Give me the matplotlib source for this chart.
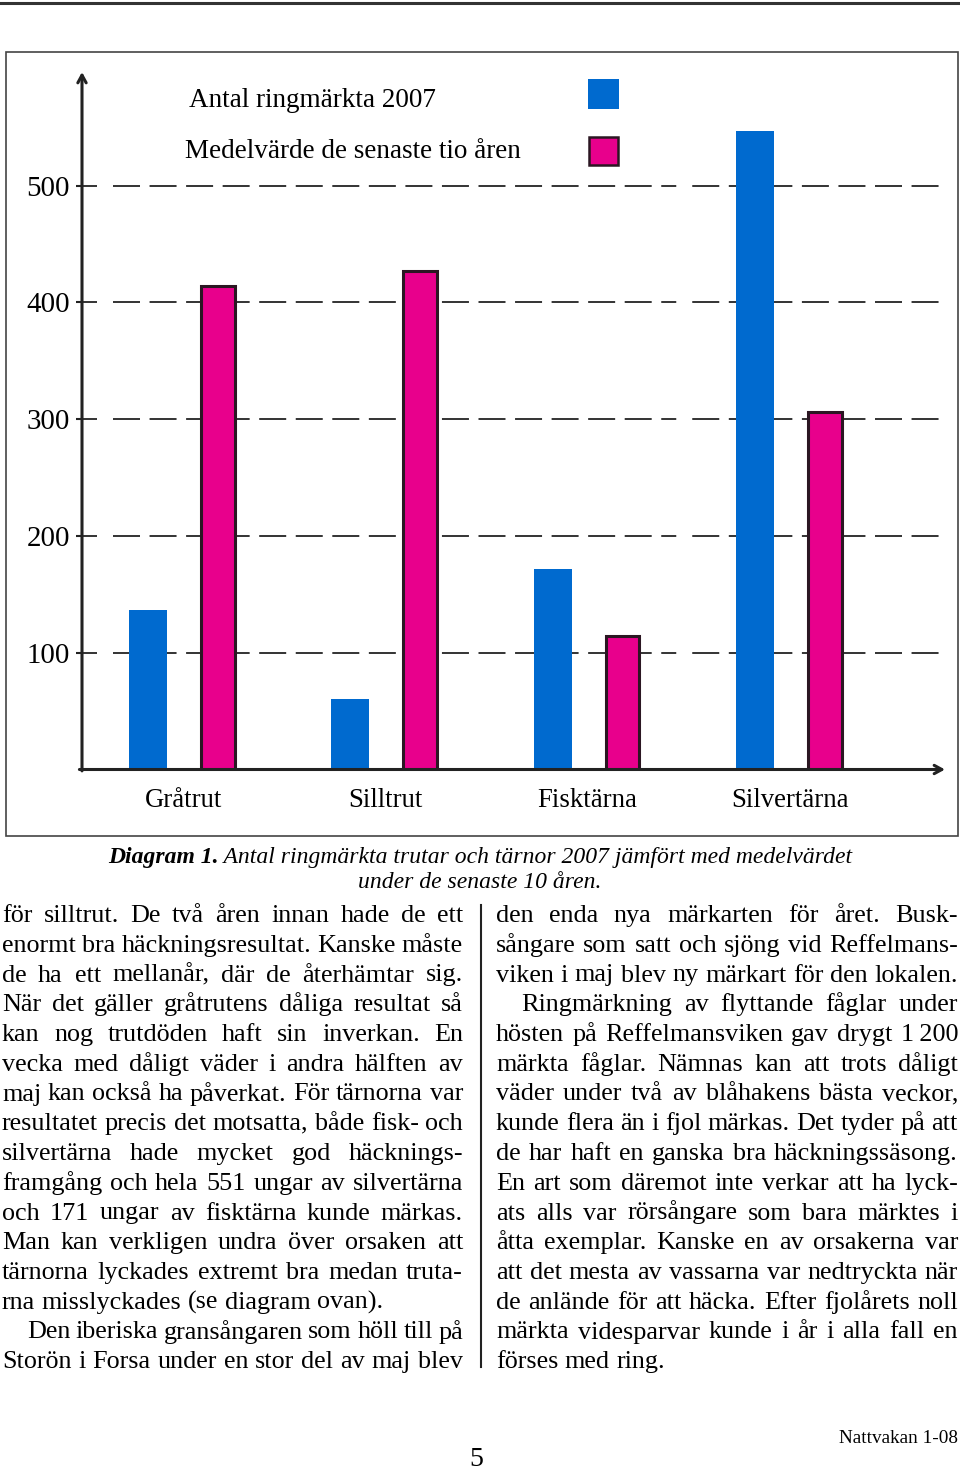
import matplotlib
matplotlib.use("Agg")
import matplotlib.pyplot as plt
import numpy as np
from matplotlib.font_manager import FontProperties
from matplotlib.patches import Rectangle
from matplotlib.lines import Line2D

plt.rcParams['lines.scale_dashes'] = False

# chart data
species = ['Gråtrut', 'Silltrut', 'Fisktärna', 'Silvertärna']
ringed_2007 = [137, 60, 172, 547]
mean_10yr = [414, 427, 114, 306]
y_ticks = [100, 200, 300, 400, 500]
legend_labels = ['Antal ringmärkta 2007', 'Medelvärde de senaste tio åren']

caption_bold = 'Diagram 1.'
caption_rest = ' Antal ringmärkta trutar och tärnor 2007 jämfört med medelvärdet'
caption_line2 = 'under de senaste 10 åren.'

# body text, one entry per printed line: (text, justified, indented)
left_col = [
    ('för silltrut. De två åren innan hade de ett', True, False),
    ('enormt bra häckningsresultat. Kanske måste', True, False),
    ('de ha ett mellanår, där de återhämtar sig.', True, False),
    ('När det gäller gråtrutens dåliga resultat så', True, False),
    ('kan nog trutdöden haft sin inverkan. En', True, False),
    ('vecka med dåligt väder i andra hälften av', True, False),
    ('maj kan också ha påverkat. För tärnorna var', True, False),
    ('resultatet precis det motsatta, både fisk- och', True, False),
    ('silvertärna hade mycket god häcknings-', True, False),
    ('framgång och hela 551 ungar av silvertärna', True, False),
    ('och 171 ungar av fisktärna kunde märkas.', True, False),
    ('Man kan verkligen undra över orsaken att', True, False),
    ('tärnorna lyckades extremt bra medan truta-', True, False),
    ('rna misslyckades (se diagram ovan).', False, False),
    ('Den iberiska gransångaren som höll till på', True, True),
    ('Storön i Forsa under en stor del av maj blev', True, False),
]
right_col = [
    ('den enda nya märkarten för året. Busk-', True, False),
    ('sångare som satt och sjöng vid Reffelmans-', True, False),
    ('viken i maj blev ny märkart för den lokalen.', True, False),
    ('Ringmärkning av flyttande fåglar under', True, True),
    ('hösten på Reffelmansviken gav drygt 1\u2009200', True, False),
    ('märkta fåglar. Nämnas kan att trots dåligt', True, False),
    ('väder under två av blåhakens bästa veckor,', True, False),
    ('kunde flera än i fjol märkas. Det tyder på att', True, False),
    ('de har haft en ganska bra häckningssäsong.', True, False),
    ('En art som däremot inte verkar att ha lyck-', True, False),
    ('ats alls var rörsångare som bara märktes i', True, False),
    ('åtta exemplar. Kanske en av orsakerna var', True, False),
    ('att det mesta av vassarna var nedtryckta när', True, False),
    ('de anlände för att häcka. Efter fjolårets noll', True, False),
    ('märkta videsparvar kunde i år i alla fall en', True, False),
    ('förses med ring.', False, False),
]

BLUE = '#006acf'
PINK = '#e8008c'
INK = '#222222'
SERIF = ['Liberation Serif', 'DejaVu Serif']

W, H = 960, 1472
fig = plt.figure(figsize=(W / 100, H / 100), dpi=100)
renderer = fig.canvas.get_renderer()


def fy(y):
    return 1 - y / H


def text_w(s, fp):
    return renderer.get_text_width_height_descent(s, fp, ismath=False)[0]


def fit(s, width, **kw):
    fp = FontProperties(family=SERIF, size=10, **kw)
    return 10 * width / text_w(s, fp)


# page furniture
fig.add_artist(Line2D([0, 1], [fy(3), fy(3)], color='#333333', lw=2.2))
fig.add_artist(Rectangle((6 / W, fy(836)), 952 / W, 784 / H, fill=False,
                         ec='#444444', lw=1.2, transform=fig.transFigure))

# chart
ax = fig.add_axes([82 / W, fy(769.5), (945 - 82) / W, (769.5 - 72) / H])
ax.patch.set_visible(False)
ax.set_xlim(-0.5, 3.768)
ax.set_ylim(0, 597.4)
idx = np.arange(len(species))
ax.bar(idx - 0.173, ringed_2007, width=0.188, color=BLUE, zorder=3)
ax.bar(idx + 0.173, mean_10yr, width=0.168, color=PINK, edgecolor='#2b1622',
       linewidth=2.2, zorder=3)

for s in ax.spines.values():
    s.set_visible(False)

dash = [15, 16] + [27, 9.55] * 30
ax.set_axisbelow(True)
ax.yaxis.grid(True, color='#333333', lw=1.4,
              linestyle=(0, [d * 0.72 for d in dash]))

tick_size = fit('500', 43)
cat_size = fit('Silvertärna', 118)
ax.set_yticks(y_ticks)
ax.set_yticklabels([str(v) for v in y_ticks], family=SERIF, fontsize=tick_size)
ax.tick_params(axis='y', length=4.3, width=1.5, pad=4.3, color=INK)
ax.set_xticks(idx)
ax.set_xticklabels(species, family=SERIF, fontsize=cat_size)
ax.tick_params(axis='x', length=0, pad=13)

arrow = dict(arrowstyle='->,head_length=0.55,head_width=0.3', lw=2.2,
             color=INK, shrinkA=0, shrinkB=0)
ax.annotate('', xy=(0, 1), xytext=(0, -0.002), xycoords='axes fraction',
            arrowprops=arrow)
ax.annotate('', xy=(1, 0), xytext=(-0.003, 0), xycoords='axes fraction',
            arrowprops=arrow)

# legend (labels left, swatches right)
leg_size = fit(legend_labels[1], 336)
fig.text(189 / W, fy(107), legend_labels[0], family=SERIF, fontsize=leg_size,
         va='baseline')
fig.text(185 / W, fy(158), legend_labels[1], family=SERIF, fontsize=leg_size,
         va='baseline')
fig.add_artist(Rectangle((588 / W, fy(109)), 31 / W, 30 / H, fc=BLUE, ec='none',
                         transform=fig.transFigure))
fig.add_artist(Rectangle((589 / W, fy(165)), 29 / W, 28 / H, fc=PINK,
                         ec='#2b1622', lw=1.8, transform=fig.transFigure))

# caption
fpb = FontProperties(family=SERIF, size=10, style='italic', weight='bold')
fpi = FontProperties(family=SERIF, size=10, style='italic')
cap_size = 10 * 744 / (text_w(caption_bold, fpb) + text_w(caption_rest, fpi))
fpb.set_size(cap_size)
fpi.set_size(cap_size)
fig.text(108 / W, fy(863), caption_bold, fontproperties=fpb, va='baseline')
fig.text((108 + text_w(caption_bold, fpb)) / W, fy(863), caption_rest,
         fontproperties=fpi, va='baseline')
fig.text(480 / W, fy(888), caption_line2, fontproperties=fpi, ha='center',
         va='baseline')

# body text
body_size = fit('rna misslyckades (se diagram ovan).', 375) * 1.02


def draw_line(s, x0, x1, y, size, justify):
    fp = FontProperties(family=SERIF, size=size)
    words = s.split(' ')
    while True:
        ws = [text_w(w, fp) for w in words]
        space = text_w('a a', fp) - text_w('aa', fp)
        gap = space
        if justify and len(words) > 1:
            gap = (x1 - x0 - sum(ws)) / (len(words) - 1)
        if gap >= 0.5 * space:
            break
        fp.set_size(fp.get_size() * 0.98)
    x = x0
    for w, wd in zip(words, ws):
        fig.text(x / W, fy(y), w, fontproperties=fp, va='baseline')
        x += wd + gap


for col, (x0, x1) in ((left_col, (2, 463)), (right_col, (496, 958))):
    for k, (line, just, indent) in enumerate(col):
        draw_line(line, x0 + (25 if indent else 0), x1, 922 + 29.75 * k,
                  body_size, just)

fig.add_artist(Line2D([481 / W, 481 / W], [fy(905), fy(1367)], color=INK,
                      lw=1.5))

fig.text(958 / W, fy(1443), 'Nattvakan 1-08', family=SERIF,
         fontsize=fit('Nattvakan 1-08', 120), ha='right', va='baseline')
fig.text(476 / W, fy(1466), '5', family=SERIF, fontsize=20, ha='center',
         va='baseline')

fig.savefig('out.png', dpi=100)
